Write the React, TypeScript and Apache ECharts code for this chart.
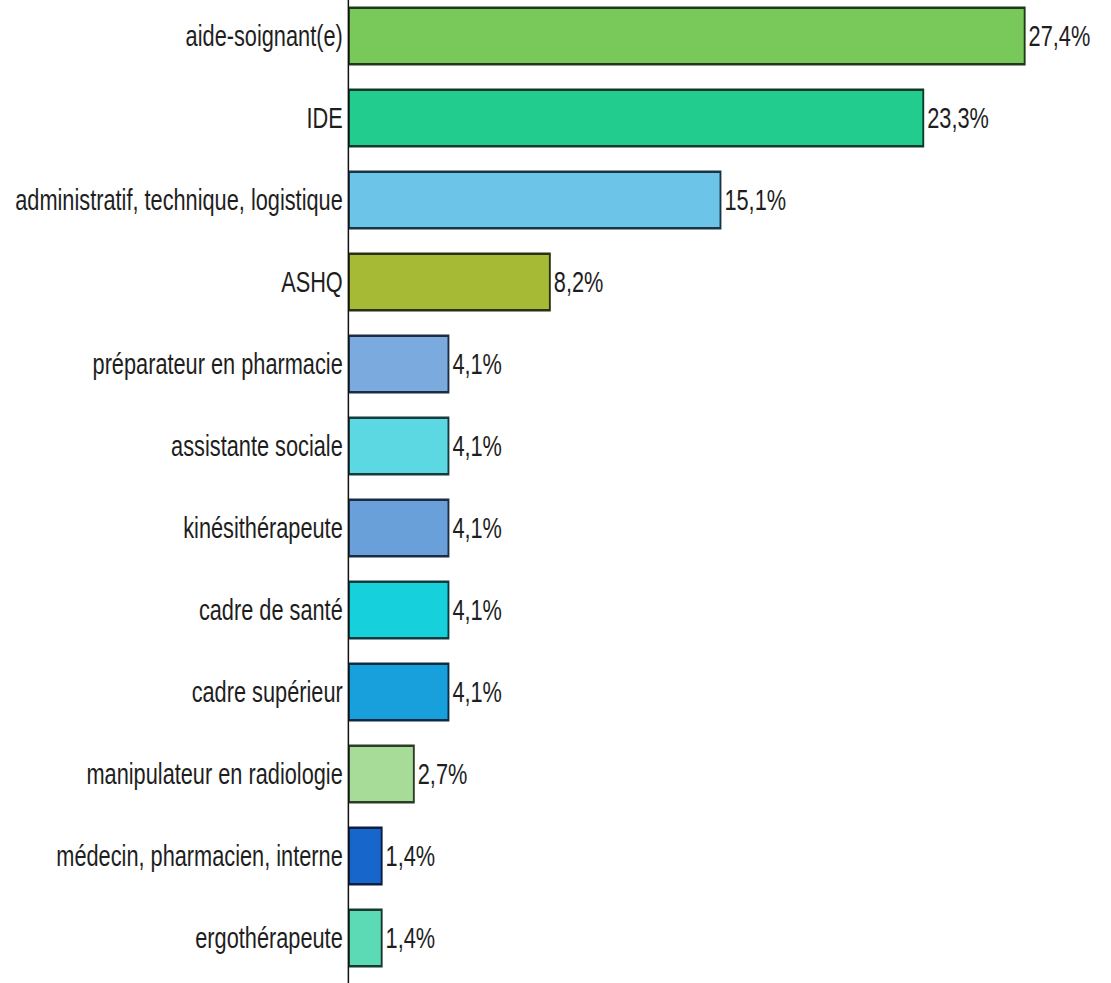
import React, { useEffect, useRef } from "react";
import * as echarts from "echarts";

const categories = [
  "aide-soignant(e)",
  "IDE",
  "administratif, technique, logistique",
  "ASHQ",
  "préparateur en pharmacie",
  "assistante sociale",
  "kinésithérapeute",
  "cadre de santé",
  "cadre supérieur",
  "manipulateur en radiologie",
  "médecin, pharmacien, interne",
  "ergothérapeute",
];
const values = [27.4, 23.3, 15.1, 8.2, 4.1, 4.1, 4.1, 4.1, 4.1, 2.7, 1.4, 1.4];
const colors = [
  "#79c95a",
  "#22cc8e",
  "#6cc4e8",
  "#a6ba36",
  "#7aaade",
  "#5cd8e2",
  "#6aa0da",
  "#16d0dc",
  "#18a0dc",
  "#a6dc98",
  "#1666cc",
  "#5cdab6",
];
const borderColors = [
  "#1f3a1a",
  "#0f3a2a",
  "#1a3446",
  "#2a3010",
  "#1c2c44",
  "#163a3e",
  "#1c2c44",
  "#0e3a3e",
  "#0c2c44",
  "#2c3c28",
  "#0c1e44",
  "#163a30",
];

// horizontal squeeze of the whole drawing (the reference text is condensed)
const SX = 0.75;
const PAGE_W = 1111;
const CHART_W = PAGE_W / SX;
const CHART_H = 988;
const AXIS_X = 348;
const PX_PER_PCT = 24.73;
const X_MAX = 30;

export default function App() {
  const ref = useRef<HTMLDivElement>(null);
  useEffect(() => {
    if (!ref.current) return;
    const chart = echarts.init(ref.current, null, { renderer: "svg" });
    const font = "'Liberation Sans', Arial, sans-serif";
    const left = AXIS_X / SX;
    chart.setOption({
      animation: false,
      backgroundColor: "#ffffff",
      grid: {
        left,
        top: 0,
        width: (X_MAX * PX_PER_PCT) / SX,
        height: 984,
        containLabel: false,
      },
      xAxis: {
        type: "value",
        min: 0,
        max: X_MAX,
        show: false,
      },
      yAxis: {
        type: "category",
        data: categories,
        inverse: true,
        axisLine: { show: false },
        axisTick: { show: false },
        axisLabel: {
          color: "#1e1e1e",
          fontFamily: font,
          fontSize: 29,
          margin: 7,
        },
      },
      graphic: [
        {
          type: "line",
          shape: { x1: left + 0.5, y1: 5, x2: left + 0.5, y2: CHART_H },
          style: { stroke: "#111111", lineWidth: 2 },
          z: 10,
        },
      ],
      series: [
        {
          type: "bar",
          barWidth: "72%",
          data: values.map((v, i) => ({
            value: v,
            itemStyle: {
              color: colors[i],
              borderColor: borderColors[i],
              borderWidth: 2.5,
            },
          })),
          label: {
            show: true,
            position: "right",
            distance: 4,
            color: "#1e1e1e",
            fontFamily: font,
            fontSize: 29,
            formatter: (p: any) => p.value.toFixed(1).replace(".", ",") + "%",
          },
        },
      ],
    });
    return () => chart.dispose();
  }, []);
  return (
    <div
      style={{
        position: "fixed",
        left: 0,
        top: 0,
        width: PAGE_W,
        height: 983,
        overflow: "hidden",
        background: "#ffffff",
      }}
    >
      <div
        ref={ref}
        style={{
          position: "absolute",
          left: 0,
          top: -5,
          width: CHART_W,
          height: CHART_H,
          transform: `scaleX(${SX})`,
          transformOrigin: "0 0",
        }}
      />
    </div>
  );
}
